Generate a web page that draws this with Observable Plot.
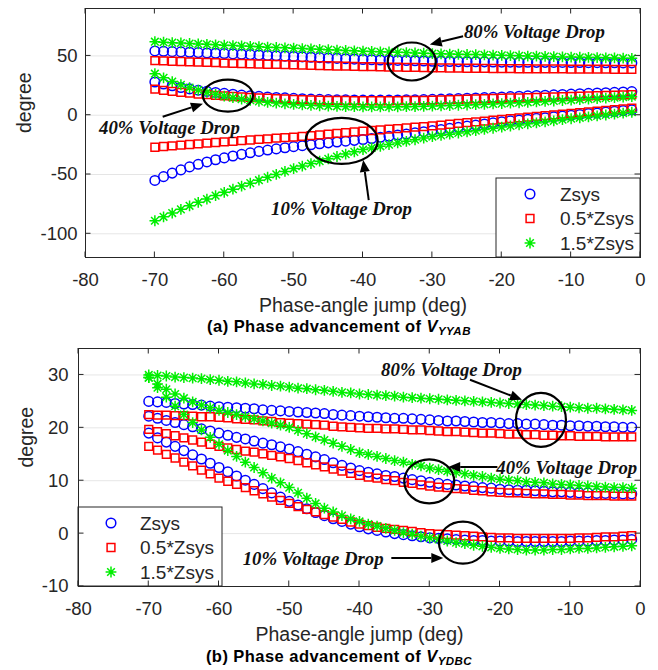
<!DOCTYPE html>
<html><head><meta charset="utf-8">
<script src="https://cdn.jsdelivr.net/npm/d3@7"></script>
<script src="https://cdn.jsdelivr.net/npm/@observablehq/plot@0.6"></script>
<style>
body{margin:0;background:#fff;width:658px;font-family:"Liberation Sans",Arial,sans-serif}
.cap{font-weight:bold;font-size:16.5px;letter-spacing:0.45px;text-align:center;height:21px;line-height:21px;color:#000;padding-left:20px;box-sizing:border-box;width:658px}
.cap sub{font-style:italic;font-size:11.5px;vertical-align:-3px}
svg{display:block}
</style></head><body>
<div id="a"></div>
<div class="cap">(a) Phase advancement of <i>V</i><sub>YYAB</sub></div>
<div id="b"></div>
<div class="cap">(b) Phase advancement of <i>V</i><sub>YDBC</sub></div>
<script>
// ---- data ----
const xs = [-70,-68.75,-67.5,-66.25,-65,-63.75,-62.5,-61.25,
 -60,-58.75,-57.5,-56.25,-55,-53.75,-52.5,-51.25,
 -50,-48.75,-47.5,-46.25,-45,-43.75,-42.5,-41.25,
 -40,-38.75,-37.5,-36.25,-35,-33.75,-32.5,-31.25,
 -30,-28.75,-27.5,-26.25,-25,-23.75,-22.5,-21.25,
 -20,-18.75,-17.5,-16.25,-15,-13.75,-12.5,-11.25,
 -10,-8.75,-7.5,-6.25,-5,-3.75,-2.5,-1.25];
const seriesNames = ["Zsys","0.5*Zsys","1.5*Zsys"];
const xTicks = [-80,-70,-60,-50,-40,-30,-20,-10,0];
const yTicksA = [-100,-50,0,50];
const yTicksB = [-10,0,10,20,30];

// (a) V_YYAB
const B80a = [54.2,53.9,53.6,53.4,53.1,52.8,52.5,52.3, 52,51.7,51.4,51.1,50.8,50.4,50.1,49.8, 49.5,49.2,48.9,48.6,48.2,47.9,47.6,47.3, 47,46.8,46.6,46.4,46.2,46.1,45.9,45.7, 45.5,45.4,45.3,45.2,45.1,45.1,45.0,44.9, 44.8,44.8,44.7,44.7,44.6,44.6,44.5,44.5, 44.4,44.4,44.3,44.3,44.2,44.2,44.1,44.1];
const R80a = [46,45.8,45.5,45.3,45,44.8,44.5,44.3, 44,43.8,43.6,43.4,43.2,43.0,42.8,42.6, 42.4,42.2,42.1,41.9,41.7,41.5,41.4,41.2, 41,40.9,40.8,40.6,40.5,40.4,40.3,40.1, 40,39.9,39.8,39.7,39.6,39.6,39.5,39.4, 39.3,39.3,39.2,39.2,39.1,39.1,39.0,39.0, 38.9,38.9,38.8,38.8,38.8,38.7,38.7,38.7];
const G80a = [62,61.6,61.2,60.9,60.5,60.1,59.8,59.4, 59,58.7,58.4,58.1,57.8,57.4,57.1,56.8, 56.5,56.2,55.9,55.6,55.3,54.9,54.6,54.3, 54,53.8,53.5,53.3,53,52.8,52.5,52.3, 52,51.8,51.6,51.4,51.2,51.1,50.9,50.7, 50.5,50.3,50.1,49.9,49.8,49.6,49.4,49.2, 49,48.9,48.7,48.6,48.4,48.3,48.1,48];
const B40a = [28,26.3,24.8,23.4,22.2,21.1,20.1,19.2, 18.4,17.7,17.0,16.4,15.9,15.4,15.0,14.6, 14.2,13.9,13.6,13.4,13.2,13.0,12.9,12.8, 12.7,12.7,12.7,12.7,12.8,12.9,13.0,13.2, 13.4,13.6,13.8,14.0,14.3,14.5,14.8,15.1, 15.4,15.7,16.0,16.3,16.6,16.9,17.2,17.5, 17.8,18.1,18.4,18.7,19.0,19.3,19.6,19.9];
const R40a = [22,21.0,20.1,19.3,18.6,17.9,17.3,16.8, 16.3,15.8,15.4,15.0,14.6,14.3,14.0,13.7, 13.4,13.2,13.0,12.8,12.6,12.5,12.4,12.3, 12.2,12.2,12.2,12.2,12.3,12.4,12.5,12.6, 12.7,12.9,13.1,13.3,13.5,13.7,13.9,14.1, 14.3,14.5,14.7,14.9,15.1,15.3,15.5,15.7, 15.9,16.1,16.3,16.5,16.7,16.9,17.1,17.3];
const G40a = [35,31.5,28.4,25.7,23.3,21.2,19.3,17.6, 16.1,14.8,13.6,12.6,11.7,10.9,10.2,9.6, 9.1,8.7,8.3,8.0,7.7,7.5,7.3,7.2, 7.1,7.0,7.0,7.0,7.1,7.2,7.3,7.5, 7.7,7.9,8.1,8.4,8.6,8.9,9.2,9.5, 9.8,10.2,10.5,10.9,11.2,11.6,12.0,12.4, 12.8,13.2,13.6,14.0,14.4,14.8,15.2,15.6];
const B10a = [-55,-51.8,-48.8,-46.1,-43.6,-41.4,-39.4,-37.6, -36.0,-34.4,-33.0,-31.7,-30.5,-29.4,-28.4,-27.4, -26.5,-25.7,-24.9,-24.1,-23.3,-22.6,-21.9,-21.2, -20.5,-19.6,-18.6,-17.7,-16.7,-15.8,-14.9,-13.9, -13.0,-12.1,-11.1,-10.2,-9.2,-8.3,-7.4,-6.4, -5.5,-4.8,-4.1,-3.4,-2.7,-2.1,-1.4,-0.7, 0,0.6,1.3,1.9,2.6,3.2,3.9,4.5];
const R10a = [-27,-26.4,-25.8,-25.3,-24.7,-24.1,-23.6,-23.0, -22.5,-22.0,-21.5,-20.9,-20.4,-19.9,-19.4,-18.9, -18.4,-17.8,-17.2,-16.6,-16.0,-15.3,-14.7,-14.1, -13.5,-12.9,-12.4,-11.8,-11.3,-10.7,-10.1,-9.6, -9.0,-8.3,-7.6,-6.9,-6.3,-5.6,-4.9,-4.2, -3.5,-2.9,-2.2,-1.6,-1.0,-0.4,0.3,0.9, 1.5,2.1,2.8,3.4,4.0,4.7,5.3,6.0];
const G10a = [-89,-85.7,-82.5,-79.4,-76.4,-73.5,-70.7,-67.8, -65,-62.4,-59.8,-57.3,-54.8,-52.3,-49.9,-47.4, -45,-42.9,-40.8,-38.8,-36.8,-34.8,-32.8,-30.9, -29,-27.6,-26.2,-24.8,-23.4,-22.0,-20.7,-19.3, -18,-17.0,-16.0,-15.0,-14.0,-13.0,-12.0,-11.0, -10,-9.1,-8.2,-7.3,-6.5,-5.6,-4.7,-3.8, -3.0,-2.2,-1.4,-0.6,0.2,1.0,1.8,2.5];

// (b) V_YDBC
const B80b = [25,24.9,24.8,24.6,24.5,24.4,24.3,24.1, 24,23.9,23.8,23.7,23.6,23.4,23.3,23.2, 23.1,23.0,22.9,22.8,22.7,22.5,22.4,22.3, 22.2,22.1,22.0,21.9,21.8,21.8,21.7,21.6, 21.5,21.4,21.3,21.3,21.2,21.1,21.0,21.0, 20.9,20.8,20.8,20.7,20.7,20.6,20.5,20.5, 20.4,20.4,20.3,20.3,20.2,20.2,20.1,20.1];
const R80b = [22.5,22.4,22.4,22.3,22.3,22.2,22.1,22.1, 22,21.9,21.7,21.6,21.5,21.3,21.2,21.0, 20.9,20.8,20.7,20.6,20.5,20.3,20.2,20.1, 20.0,19.9,19.9,19.8,19.8,19.7,19.6,19.6, 19.5,19.4,19.3,19.3,19.2,19.1,19.0,19.0, 18.9,18.8,18.8,18.7,18.7,18.6,18.6,18.5, 18.5,18.4,18.4,18.4,18.3,18.3,18.3,18.3];
const G80b = [30,29.9,29.8,29.6,29.5,29.4,29.3,29.1, 29,28.8,28.7,28.5,28.3,28.2,28.0,27.9, 27.7,27.5,27.4,27.2,27.1,26.9,26.7,26.6, 26.4,26.3,26.2,26.1,26.0,25.8,25.7,25.6, 25.5,25.4,25.3,25.2,25.1,25.0,24.9,24.8, 24.7,24.6,24.5,24.4,24.3,24.2,24.1,24.0, 23.9,23.8,23.7,23.7,23.6,23.5,23.4,23.3];
const B40b = [22.2,21.8,21.4,21.0,20.6,20.2,19.8,19.4, 19.0,18.6,18.2,17.9,17.5,17.1,16.8,16.4, 16.0,15.5,15.0,14.5,14.0,13.4,12.9,12.4, 11.9,11.6,11.3,11.0,10.8,10.5,10.2,10.0, 9.7,9.5,9.3,9.2,9.0,8.9,8.7,8.6, 8.4,8.3,8.2,8.2,8.1,8.0,7.9,7.9, 7.8,7.7,7.7,7.6,7.6,7.6,7.5,7.5];
const R40b = [19.7,19.3,18.9,18.5,18.1,17.7,17.3,16.9, 16.5,16.2,15.9,15.6,15.4,15.1,14.8,14.5, 14.2,13.8,13.4,13.0,12.6,12.2,11.8,11.4, 11.0,10.7,10.5,10.2,10.0,9.7,9.5,9.2, 9.0,8.8,8.7,8.5,8.4,8.2,8.1,7.9, 7.8,7.7,7.7,7.6,7.5,7.5,7.4,7.4, 7.3,7.3,7.2,7.2,7.2,7.1,7.1,7.1];
const G40b = [29.5,28.3,27.3,26.4,25.6,24.9,24.3,23.8, 23.3,22.9,22.5,22.1,21.7,21.3,20.9,20.5, 20.1,19.5,18.9,18.3,17.7,17.1,16.5,15.9, 15.3,15.0,14.6,14.2,13.8,13.5,13.1,12.8, 12.4,12.1,11.8,11.6,11.3,11.0,10.8,10.5, 10.3,10.1,10.0,9.8,9.7,9.6,9.4,9.3, 9.2,9.1,9.0,8.9,8.8,8.7,8.7,8.6];
const B10b = [19.0,18.1,17.3,16.5,15.7,14.9,14.1,13.3, 12.5,11.7,10.9,10.1,9.3,8.5,7.7,6.9, 6.1,5.4,4.7,4.0,3.4,2.8,2.3,1.8, 1.3,0.9,0.6,0.3,0.0,-0.2,-0.4,-0.6, -0.8,-0.9,-1.0,-1.1,-1.2,-1.3,-1.3,-1.4, -1.4,-1.4,-1.5,-1.5,-1.5,-1.5,-1.5,-1.5, -1.4,-1.4,-1.4,-1.3,-1.3,-1.2,-1.2,-1.1];
const R10b = [16.5,15.8,15.0,14.3,13.5,12.8,12.0,11.3, 10.5,9.9,9.3,8.7,8.1,7.5,6.9,6.3, 5.7,5.1,4.6,4.1,3.6,3.1,2.7,2.2, 1.8,1.5,1.2,1.0,0.8,0.6,0.4,0.2, 0.0,-0.1,-0.2,-0.3,-0.4,-0.5,-0.6,-0.7, -0.8,-0.8,-0.9,-0.9,-0.9,-0.9,-0.9,-0.9, -0.9,-0.8,-0.8,-0.7,-0.6,-0.6,-0.5,-0.4];
const G10b = [29.5,27.6,25.8,24.1,22.5,21.0,19.6,18.2, 16.9,15.7,14.6,13.5,12.5,11.5,10.5,9.6, 8.7,7.7,6.7,5.7,4.8,4.1,3.4,2.8, 2.3,1.8,1.4,1.0,0.6,0.2,-0.1,-0.5, -0.8,-1.1,-1.4,-1.7,-1.9,-2.2,-2.4,-2.6, -2.8,-2.9,-3.0,-3.1,-3.1,-3.1,-3.0,-3.0, -2.9,-2.8,-2.8,-2.7,-2.6,-2.5,-2.4,-2.3];

// annotations (data coordinates)
const notesA = [
  {label:"80% Voltage Drop", x:-15.3, y:70.3},
  {label:"40% Voltage Drop", x:-67.9, y:-11},
  {label:"10% Voltage Drop", x:-43.1, y:-78.8}];
const ellipsesA = [{x:-32.9, y:44.9, rx:24, ry:19},{x:-59.4, y:16.1, rx:25, ry:16},{x:-43, y:-22, rx:36, ry:23}];
const arrowsA = [{x1:-25.5,y1:66.1,x2:-30.3,y2:59.3},{x1:-68.8,y1:-1.7,x2:-63.0,y2:9.3},{x1:-39.1,y1:-72,x2:-39.9,y2:-38.1}];
const notesB = [
  {label:"80% Voltage Drop", x:-26.9, y:31.0},
  {label:"40% Voltage Drop", x:-10.5, y:12.5},
  {label:"10% Voltage Drop", x:-46.6, y:-4.7}];
const ellipsesB = [{x:-14.1, y:21.4, rx:25, ry:27},{x:-30.0, y:9.8, rx:25, ry:22},{x:-25.2, y:-1.8, rx:24, ry:21}];
const arrowsB = [{x1:-24.2,y1:29.0,x2:-16.8,y2:25.2},{x1:-20.3,y1:12.5,x2:-27.3,y2:12.5},{x1:-35.4,y1:-4.7,x2:-28.0,y2:-4.7}];

// ---- build ----
function rows(groups) {
  const out = [];
  for (const g of groups) g.forEach((arr, k) => arr.forEach((v, i) => out.push({x: xs[i], y: v, s: seriesNames[k]})));
  return out;
}
const dataA = rows([[B80a,R80a,G80a],[B40a,R40a,G40a],[B10a,R10a,G10a]]);
const dataB = rows([[B80b,R80b,G80b],[B40b,R40b,G40b],[B10b,R10b,G10b]]);

const star = {draw(ctx, size) {
  const r = Math.sqrt(size / Math.PI), d = r * Math.SQRT1_2;
  ctx.moveTo(-r, 0); ctx.lineTo(r, 0); ctx.moveTo(0, -r); ctx.lineTo(0, r);
  ctx.moveTo(-d, -d); ctx.lineTo(d, d); ctx.moveTo(-d, d); ctx.lineTo(d, -d);
}};
const styles = {
  "Zsys": {symbol: d3.symbolCircle, r: 4.8, stroke: "#0000ff"},
  "0.5*Zsys": {symbol: d3.symbolSquare, r: 4.4, stroke: "#ff0000"},
  "1.5*Zsys": {symbol: star, r: 5.4, stroke: "#00ee00"}
};
const AX = "#262626";

function deco(ellipses, arrows, legendSide, yTicks) {
  return (index, scales, values, dim) => {
    const {x, y} = scales;
    const L = dim.marginLeft, R = dim.width - dim.marginRight, T = dim.marginTop, B = dim.height - dim.marginBottom;
    const g = d3.create("svg:g");
    for (const e of ellipses)
      g.append("ellipse").attr("cx", x(e.x)).attr("cy", y(e.y)).attr("rx", e.rx).attr("ry", e.ry)
        .attr("fill", "none").attr("stroke", "#000").attr("stroke-width", 2.2);
    for (const a of arrows) {
      const x1 = x(a.x1), y1 = y(a.y1), x2 = x(a.x2), y2 = y(a.y2);
      const ang = Math.atan2(y2 - y1, x2 - x1), hl = 12, hw = 5;
      const bx = x2 - hl * Math.cos(ang), by = y2 - hl * Math.sin(ang);
      g.append("line").attr("x1", x1).attr("y1", y1).attr("x2", bx).attr("y2", by).attr("stroke", "#000").attr("stroke-width", 2);
      g.append("path").attr("fill", "#000")
        .attr("d", `M${x2},${y2}L${bx - hw * Math.sin(ang)},${by + hw * Math.cos(ang)}L${bx + hw * Math.sin(ang)},${by - hw * Math.cos(ang)}Z`);
    }
    // legend
    const w = 144, h = 79;
    const lx = legendSide === "right" ? R - w : L, ly = B - h;
    g.append("rect").attr("x", lx).attr("y", ly).attr("width", w).attr("height", h)
      .attr("fill", "#fff").attr("stroke", AX).attr("stroke-width", 1);
    seriesNames.forEach((s, k) => {
      const st = styles[s], cy = ly + 16 + k * 24.5;
      const mx = lx + (legendSide === "right" ? 34 : 33);
      g.append("path").attr("transform", `translate(${mx},${cy})`)
        .attr("d", d3.symbol(st.symbol, Math.PI * st.r * st.r)())
        .attr("fill", "none").attr("stroke", st.stroke).attr("stroke-width", 1.5);
      g.append("text").attr("x", lx + (legendSide === "right" ? 64 : 62)).attr("y", cy).attr("dy", "0.35em")
        .attr("text-anchor", "start").attr("font-size", 19).attr("fill", AX).text(s);
    });
    // inward ticks on all four sides
    const tl = 5.5;
    for (const t of xTicks) {
      const px = x(t);
      g.append("line").attr("x1", px).attr("x2", px).attr("y1", B).attr("y2", B - tl).attr("stroke", AX);
      g.append("line").attr("x1", px).attr("x2", px).attr("y1", T).attr("y2", T + tl).attr("stroke", AX);
    }
    for (const t of yTicks) {
      const py = y(t);
      g.append("line").attr("y1", py).attr("y2", py).attr("x1", L).attr("x2", L + tl).attr("stroke", AX);
      g.append("line").attr("y1", py).attr("y2", py).attr("x1", R).attr("x2", R - tl).attr("stroke", AX);
    }
    return g.node();
  };
}

function chart(data, yDomain, yTicks, notes, ellipses, arrows, legendSide, dims) {
  const dots = seriesNames.map(s => Plot.dot(data.filter(d => d.s === s), {
    x: "x", y: "y", r: styles[s].r, symbol: styles[s].symbol, stroke: styles[s].stroke, fill: "none", strokeWidth: 1.5
  }));
  return Plot.plot({
    width: 658, height: dims.height,
    marginTop: dims.top, marginBottom: dims.bottom, marginLeft: dims.left, marginRight: 18,
    x: {domain: [-80, 0]},
    y: {domain: yDomain},
    style: {fontFamily: "'Liberation Sans', Arial, sans-serif", fontSize: "18.5px", color: AX, background: "#fff", overflow: "visible"},
    marks: [
      Plot.gridY(yTicks, {stroke: "#000", strokeOpacity: 0.1}),
      Plot.axisX(xTicks, {tickSize: 0, tickPadding: 15, label: null, tickFormat: d => String(d), fill: AX}),
      Plot.axisY(yTicks, {tickSize: 0, tickPadding: dims.pad, label: null, tickFormat: d => String(d), fill: AX}),
      Plot.text(["Phase-angle jump (deg)"], {text: d => d, frameAnchor: "bottom", lineAnchor: "top", dy: 41, fontSize: 19.5, fill: AX}),
      Plot.text(["degree"], {text: d => d, frameAnchor: "left", rotate: -90, dx: dims.ylab, fontSize: 19.5, fill: AX}),
      ...dots,
      Plot.text(notes, {x: "x", y: "y", text: "label", fontFamily: "'Liberation Serif', 'Times New Roman', serif",
        fontWeight: "bold", fontStyle: "italic", fontSize: 18.8, fill: "#111"}),
      deco(ellipses, arrows, legendSide, yTicks),
      Plot.frame({stroke: AX})
    ]
  });
}

document.getElementById("a").append(chart(dataA, [-120, 90], yTicksA, notesA, ellipsesA, arrowsA, "right",
  {height: 316, top: 8, bottom: 59, left: 85, pad: 8, ylab: -61}));
document.getElementById("b").append(chart(dataB, [-10, 35], yTicksB, notesB, ellipsesB, arrowsB, "left",
  {height: 309, top: 11, bottom: 60, left: 78, pad: 10, ylab: -52}));
</script>
</body></html>
